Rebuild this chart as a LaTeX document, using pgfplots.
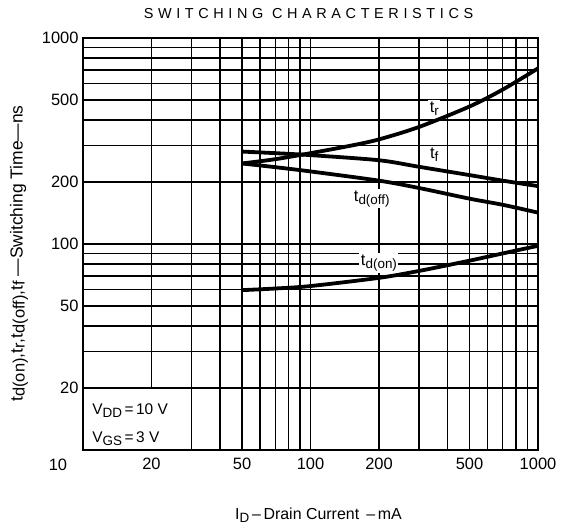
\documentclass[border=0pt]{standalone}
\usepackage{fontspec}
\setmainfont{Liberation Sans}
\usepackage{pgfplots}
\pgfplotsset{compat=1.18}
\newcommand{\sub}[1]{\raisebox{-0.35ex}{\fontsize{13.5}{14}\selectfont #1}}
\newcommand{\subl}[1]{\raisebox{-0.2ex}{\fontsize{16.5}{17}\selectfont #1}}
\begin{document}
\begin{tikzpicture}
\begin{axis}[
  name=ax,
  xmode=log, ymode=log,
  scale only axis,
  width=455bp, height=412bp,
  xmin=10, xmax=1000, ymin=10, ymax=1000,
  xtick={10,20,30,40,50,60,70,80,90,100,200,300,400,500,600,700,800,900,1000},
  xticklabels={,20,,,50,,,,,100,200,,,500,,,,,1000},
  ytick={10,20,30,40,50,60,70,80,90,100,200,300,400,500,600,700,800,900,1000},
  yticklabels={,20,,,50,,,,,100,200,,,500,,,,,1000},
  major tick length=0pt,
  grid=major,
  major grid style={black, line width=1.2bp},
  axis line style={black, line width=1.8bp},
  tick label style={font=\fontsize{16.5}{18}\selectfont},
  xticklabel style={yshift=-5bp},
  yticklabel style={xshift=-1bp},
  clip=false,
]
% box for conditions
\draw[black, line width=1.4bp, fill=white] (axis cs:10,10) rectangle (axis cs:30,20);
\node[anchor=west, font=\fontsize{15.5}{18}\selectfont] at (axis cs:10.6,15.6) {V\sub{DD}\,=\,10 V};
\node[anchor=west, font=\fontsize{15.5}{18}\selectfont] at (axis cs:10.6,11.4) {V\sub{GS}\,=\,3 V};
% curves
\addplot[black, line width=3.8bp, smooth] coordinates {
(50,246) (70,258) (100,276) (150,300) (200,322) (300,370) (500,465) (700,562) (1000,712)};
\addplot[black, line width=3.8bp, smooth] coordinates {
(50,281) (70,276) (100,270) (200,255) (300,237) (500,216) (700,203) (1000,191)};
\addplot[black, line width=3.8bp, smooth] coordinates {
(50,246) (70,236) (100,225) (200,203) (300,187) (500,166) (700,155) (1000,142)};
\addplot[black, line width=3.8bp, smooth] coordinates {
(50,59.7) (70,60.8) (100,62.5) (200,68.5) (300,74) (500,83) (700,90) (1000,98)};
% curve labels
\node[fill=white, inner sep=1.5bp, font=\fontsize{16.5}{18}\selectfont] at (axis cs:350,455) {t\sub{r}};
\node[fill=white, inner sep=1.5bp, font=\fontsize{16.5}{18}\selectfont] at (axis cs:350,272) {t\sub{f}};
\node[fill=white, inner sep=1.5bp, font=\fontsize{16.5}{18}\selectfont] at (axis cs:186,166) {t\sub{d(off)}};
\node[fill=white, inner sep=1.5bp, font=\fontsize{16.5}{18}\selectfont] at (axis cs:200,81) {t\sub{d(on)}};
% corner label
\node[font=\fontsize{16.5}{18}\selectfont] at ([xshift=-25bp,yshift=-15bp]rel axis cs:0,0) {10};
\end{axis}
\node[font=\fontsize{14.5}{16}\selectfont\addfontfeature{LetterSpace=32}] at ([yshift=24bp,xshift=-2bp]ax.north) {SWITCHING CHARACTERISTICS};
\node[font=\fontsize{16}{18}\selectfont] at ([yshift=-65bp,xshift=8bp]ax.south) {I\sub{D}\,--\,Drain Current \,--\,mA};
\coordinate (yl) at ([xshift=-64bp,yshift=45bp]ax.south west);
\node[rotate=90, anchor=west, font=\fontsize{17.5}{19}\selectfont] at (yl) {t\subl{d(on)},t\subl{r},t\subl{d(off)},t\subl{f} ---Switching Time---ns};
\path ([xshift=-83bp,yshift=-81bp]ax.south west) rectangle ([xshift=29bp,yshift=38bp]ax.north east);
\end{tikzpicture}
\end{document}
